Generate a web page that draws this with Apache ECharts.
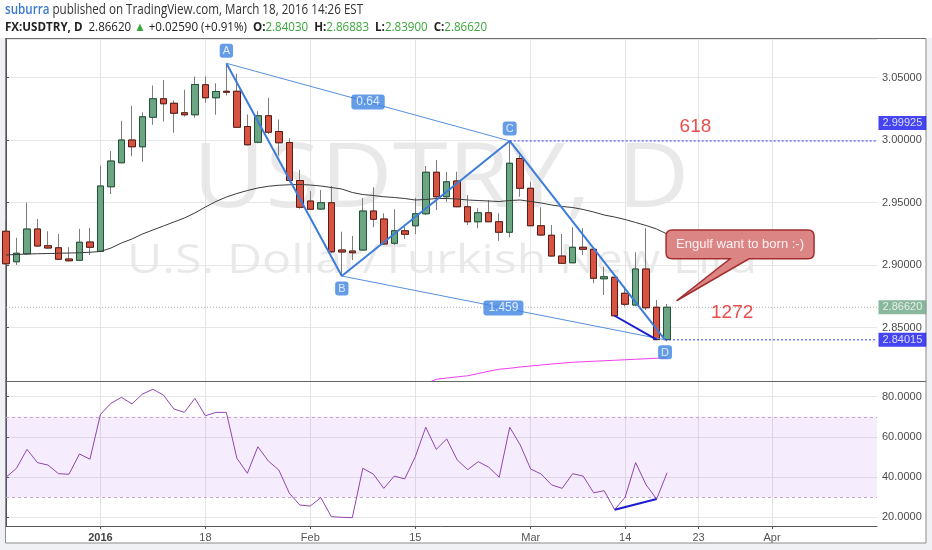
<!DOCTYPE html>
<html><head><meta charset="utf-8">
<script src="https://cdn.jsdelivr.net/npm/echarts@6/dist/echarts.min.js"></script>
<style>html,body{margin:0;padding:0;background:#eff1f4;}#c{width:932px;height:550px;}</style>
</head><body><div id="c"></div>
<script>
// ---------- data ----------
const firstDay = '2015-12-21';
const lastDay = '2016-04-15';
const holidays = ['2016-01-01'];
const tickDates = ['2016-01-04','2016-01-18','2016-02-01','2016-02-15','2016-03-01','2016-03-14','2016-03-23','2016-04-01'];
const tickLabels = ['2016','18','Feb','15','Mar','14','23','Apr'];

const opens = [2.927,2.9026,2.909,2.9288,2.9154,2.9138,2.9048,2.9038,2.9184,2.911,
  2.9626,2.9818,3.0,2.9946,3.0182,3.033,3.0294,3.0218,3.0202,3.0442,
  3.0338,3.039,3.039,3.0108,2.9982,3.0194,3.0068,2.998,2.9676,2.9512,
  2.9448,2.9498,2.912,2.9112,2.912,2.9432,2.9368,2.9174,2.9274,2.9314,
  2.941,2.9742,2.9546,2.9672,2.9466,2.9346,2.9418,2.9346,2.9262,2.9852,
  2.9614,2.9314,2.9238,2.9072,2.9018,2.9142,2.9126,2.889,2.8902,2.8774,
  2.868,2.8968,2.8662,2.8403];
const closes = [2.901,2.9094,2.9288,2.9152,2.9136,2.9046,2.9034,2.9182,2.9142,2.9632,
  2.9832,3.0,2.9946,3.0186,3.033,3.029,3.0214,3.0202,3.0444,3.0338,
  3.0388,3.0382,3.0102,2.9962,3.0194,3.0062,2.9978,2.9676,2.9462,2.9446,
  2.9498,2.9106,2.9104,2.9098,2.9432,2.9366,2.9168,2.9274,2.9246,2.941,
  2.9742,2.9546,2.9666,2.9466,2.9346,2.9418,2.9346,2.9262,2.9814,2.9614,
  2.9314,2.924,2.9072,2.9014,2.9142,2.9126,2.8894,2.8906,2.8594,2.8686,
  2.8968,2.8658,2.8403,2.8662];
const lows = [2.900,2.900,2.908,2.9146,2.913,2.904,2.9026,2.9034,2.908,2.9104,
  2.9568,2.9814,2.987,2.9826,3.0122,3.0148,3.0058,3.0188,3.0178,3.0298,
  3.0202,3.0356,3.0098,2.9956,2.9974,3.0048,2.9876,2.9662,2.945,2.944,
  2.944,2.9094,2.8912,2.904,2.9114,2.9302,2.916,2.916,2.9208,2.9248,
  2.94,2.944,2.9506,2.9462,2.932,2.9294,2.9346,2.9194,2.9222,2.9546,
  2.9312,2.9232,2.9066,2.9008,2.9014,2.908,2.8854,2.876,2.8586,2.867,
  2.867,2.864,2.84015,2.839];
const highs = [2.935,2.9218,2.9498,2.9368,2.927,2.9248,2.9142,2.929,2.9298,2.9794,
  2.9912,3.0154,3.0274,3.0222,3.0436,3.048,3.0316,3.0402,3.0508,3.0508,
  3.0454,3.0614,3.053,3.0204,3.023,3.0338,3.0164,3.0014,2.9762,2.9592,
  2.96,2.9632,2.9266,2.9232,2.9534,2.9622,2.9414,2.9446,2.9306,2.9538,
  2.9792,2.984,2.9746,2.9746,2.956,2.9454,2.952,2.9414,2.99925,2.9878,
  2.9666,2.9462,2.932,2.9248,2.9302,2.9294,2.9146,2.8986,2.8906,2.8826,
  2.9102,2.9294,2.872,2.86883];
const maSlow = [2.908,2.9084,2.9088,2.909,2.9092,2.9094,2.9096,2.9098,2.9102,2.9108,
  2.9136,2.9176,2.9208,2.9248,2.928,2.9312,2.9344,2.9376,2.9416,2.9464,
  2.9508,2.9544,2.9572,2.9596,2.9616,2.963,2.9638,2.9642,2.9644,2.964,
  2.9632,2.962,2.9608,2.958,2.9564,2.9556,2.9546,2.954,2.9532,2.952,
  2.9524,2.9532,2.9532,2.9528,2.952,2.9516,2.9512,2.9508,2.9516,2.952,
  2.9508,2.9496,2.948,2.9468,2.946,2.9444,2.9424,2.94,2.9384,2.9364,
  2.934,2.9316,2.9288,2.9248];
const ma200Start = 40;
const ma200 = [2.805,2.8086,2.8096,2.8105,2.8114,2.8132,2.815,2.8166,2.8174,2.8184,
  2.8192,2.82,2.8208,2.8215,2.8222,2.8226,2.823,2.8234,2.8238,2.8242,
  2.8246,2.825,2.8254,2.8258];
const rsi = [39.9,44.4,53.8,47.2,46.0,41.7,41.4,51.5,48.9,71.2,
  76.7,79.7,76.4,81.3,83.7,80.8,73.9,72.2,79.2,70.5,
  72.2,72.2,49.4,41.9,55.1,48.0,43.5,32.0,26.1,25.6,
  29.8,20.3,20.0,19.8,44.4,41.5,34.4,40.5,39.1,50.1,
  64.8,53.8,59.0,48.5,43.7,47.7,44.9,39.9,64.8,56.0,
  44.0,41.5,36.1,34.4,41.7,40.5,32.2,33.2,23.8,30.0,
  47.2,36.1,29.1,42.2];

// annotations (chart coordinates: bar index, price)
const patternNames = ['A','B','C','D'];
const patternIdx = [21, 32, 48, 62.8];
const patternPrice = [3.0614, 2.8912, 2.99925, 2.84015];
const ratioLabels = ['0.64', '1.459'];
const divPriceIdx = [58, 62], divPriceVal = [2.8594, 2.8403];
const divRsiIdx = [58, 62], divRsiVal = [23.8, 29.1];
const lastPrice = 2.8662;
const noteTexts = ['618', '1272'];
const noteIdx = [65.7, 69.2];
const notePrice = [3.0106, 2.8614];
const calloutText = 'Engulf want to born :-)';
const calloutTip = [63.9, 2.8714];
const calloutBox = [62.9, 2.928, 77.0, 2.905];
const calloutBase = [69.0, 70.8];
const rsiBand = [30, 70];

// ---------- build ----------
function tradingDays(a, b, skip) {
  const out = []; let d = new Date(a + 'T00:00:00Z'); const e = new Date(b + 'T00:00:00Z');
  while (d <= e) { const wd = d.getUTCDay(); const s = d.toISOString().slice(0, 10);
    if (wd !== 0 && wd !== 6 && skip.indexOf(s) < 0) out.push(s);
    d = new Date(d.getTime() + 86400000); }
  return out;
}
const days = tradingDays(firstDay, lastDay, holidays);
const lastIdx = days.length - 1;
const tickMap = {}; tickDates.forEach((d, i) => tickMap[d] = tickLabels[i]);
const isTick = (i, v) => tickMap[v] !== undefined;

const candles = opens.map((o, i) => [o, closes[i], lows[i], highs[i]]);
const bodies = opens.map((o, i) => [o, closes[i], Math.min(o, closes[i]), Math.max(o, closes[i])]);
const ma200Data = days.slice(0, ma200Start).map(() => null).concat(ma200);
const P = patternIdx.map((x, i) => [x, patternPrice[i]]);
const mid = (a, b) => [(a[0] + b[0]) / 2, (a[1] + b[1]) / 2];
const isMult = (v, s) => Math.abs(v / s - Math.round(v / s)) < 1e-6;

const blueThick = '#3c7ddb', blueThin = '#5690dd', tagBlue = '#1515ee';
const labelBox = {show: true, color: '#fff', backgroundColor: '#3f83e2', borderRadius: 3,
  fontSize: 11, fontFamily: 'Liberation Sans', padding: [2, 3, 1, 3]};

const option = {
  animation: false,
  backgroundColor: '#eff1f4',
  graphic: [
    {type: 'rect', z: -100, shape: {x: 0, y: 0, width: 932, height: 38}, style: {fill: '#ffffff'}},
    {type: 'rect', z: -100, shape: {x: 5.5, y: 38.5, width: 920.5, height: 504.5}, style: {fill: '#ffffff', stroke: '#8c8c8c', lineWidth: 1}},
    {type: 'line', z: 100, shape: {x1: 5, y1: 38.5, x2: 926, y2: 38.5}, style: {stroke: '#6f6f6f', lineWidth: 1.2}},
    {type: 'line', z: 100, shape: {x1: 5, y1: 381.5, x2: 926, y2: 381.5}, style: {stroke: '#666', lineWidth: 1}},
    {type: 'text', z: -50, x: 441, y: 181, scaleX: 1.11, style: {text: 'USDTRY, D', fontSize: 90, fontFamily: 'Open Sans', fill: 'rgba(0,0,0,0.085)', align: 'center', verticalAlign: 'middle'}},
    {type: 'text', z: -50, x: 442, y: 262, scaleX: 1.21, style: {text: 'U.S. Dollar/Turkish New Lira', fontSize: 40, fontFamily: 'Open Sans', fill: 'rgba(0,0,0,0.085)', align: 'center', verticalAlign: 'middle'}},
    {type: 'text', z: 10, x: 5, y: 10, scaleX: 0.83, style: {text: '{u|suburra} published on TradingView.com, March 18, 2016 14:26 EST',
      fontSize: 14, fontFamily: 'Open Sans', fill: '#333', verticalAlign: 'middle',
      rich: {u: {fill: '#3a7bd0', fontSize: 14, fontFamily: 'Open Sans', fontWeight: 600}}}},
    {type: 'text', z: 10, x: 5, y: 27, scaleX: 0.89, style: {
      text: '{b|FX:USDTRY, D}  2.86620 {g|▲} +0.02590 (+0.91%)  {b|O:}{g|2.84030}  {b|H:}{g|2.86883}  {b|L:}{g|2.83900}  {b|C:}{g|2.86620}',
      fontSize: 13, fontFamily: 'Open Sans', fill: '#222', verticalAlign: 'middle',
      rich: {b: {fontWeight: 'bold', fontSize: 13, fontFamily: 'Open Sans', fill: '#222'},
             g: {fill: '#3aa63a', fontSize: 13, fontFamily: 'Open Sans'}}}}
  ],
  grid: [
    {left: 6, right: 55, top: 39, height: 342},
    {left: 6, right: 55, top: 381, height: 145}
  ],
  xAxis: [
    {type: 'category', gridIndex: 0, data: days, boundaryGap: false,
     axisLine: {show: false}, axisTick: {show: false}, axisLabel: {show: false},
     splitLine: {show: true, interval: isTick, lineStyle: {color: '#e4e4e4'}}},
    {type: 'category', gridIndex: 1, data: days, boundaryGap: false,
     axisLine: {show: true, lineStyle: {color: '#555'}},
     axisTick: {show: true, interval: isTick, length: 3, lineStyle: {color: '#555'}},
     axisLabel: {interval: isTick, margin: 6, color: '#555', fontSize: 11, fontFamily: 'Liberation Sans',
       formatter: v => { const t = tickMap[v]; if (t === undefined) return ''; return /^\d{4}$/.test(t) ? '{b|' + t + '}' : t; },
       rich: {b: {fontWeight: 'bold', color: '#444', fontSize: 11, fontFamily: 'Liberation Sans'}}},
     splitLine: {show: true, interval: isTick, lineStyle: {color: '#e4e4e4'}}},
    {type: 'value', gridIndex: 0, min: 0, max: lastIdx, show: false},
    {type: 'value', gridIndex: 1, min: 0, max: lastIdx, show: false}
  ],
  yAxis: [
    {type: 'value', gridIndex: 0, position: 'right', min: 2.8072, max: 3.0808, splitNumber: 5, scale: true,
     axisLine: {show: true, lineStyle: {color: '#555'}}, axisTick: {show: true, length: 3, lineStyle: {color: '#555'}},
     axisLabel: {showMinLabel: false, showMaxLabel: false, margin: 5, color: '#4a4a4a', fontSize: 11, fontFamily: 'Liberation Sans',
       formatter: v => isMult(v, 0.05) ? v.toFixed(5) : ''},
     splitLine: {show: true, lineStyle: {color: '#e6e6e6'}}},
    {type: 'value', gridIndex: 1, position: 'right', min: 15.67, max: 87.81, splitNumber: 3, scale: true,
     axisLine: {show: true, lineStyle: {color: '#555'}}, axisTick: {show: true, length: 3, lineStyle: {color: '#555'}},
     axisLabel: {showMinLabel: false, showMaxLabel: false, margin: 5, color: '#4a4a4a', fontSize: 11, fontFamily: 'Liberation Sans',
       formatter: v => isMult(v, 20) ? v.toFixed(4) : ''},
     splitLine: {show: true, lineStyle: {color: '#e6e6e6'}}}
  ],
  series: [
    {type: 'candlestick', name: 'wick', xAxisIndex: 0, yAxisIndex: 0, data: candles, barWidth: 7, z: 3, silent: true,
     itemStyle: {color: '#6ba583', color0: '#d75442', borderColor: '#7d7d7d', borderColor0: '#7d7d7d', borderWidth: 1}},
    {type: 'candlestick', name: 'body', xAxisIndex: 0, yAxisIndex: 0, data: bodies, barWidth: 7, z: 4, silent: true,
     itemStyle: {color: '#6ba583', color0: '#d75442', borderColor: '#225437', borderColor0: '#5b1a13', borderWidth: 1}},
    {type: 'line', name: 'MA', xAxisIndex: 0, yAxisIndex: 0, data: maSlow, symbol: 'none', z: 5, silent: true,
     lineStyle: {color: '#3a3a3a', width: 1}},
    {type: 'line', name: 'MA200', xAxisIndex: 0, yAxisIndex: 0, data: ma200Data, symbol: 'none', z: 5, silent: true,
     lineStyle: {color: '#f03cf0', width: 1}},
    {type: 'line', xAxisIndex: 2, yAxisIndex: 0, data: P, symbol: 'none', z: 6, silent: true,
     lineStyle: {color: blueThick, width: 2}},
    {type: 'line', xAxisIndex: 2, yAxisIndex: 0, data: [P[0], P[2]], symbol: 'none', z: 6, silent: true,
     lineStyle: {color: blueThin, width: 1}},
    {type: 'line', xAxisIndex: 2, yAxisIndex: 0, data: [P[1], P[3]], symbol: 'none', z: 6, silent: true,
     lineStyle: {color: blueThin, width: 1}},
    {type: 'line', xAxisIndex: 2, yAxisIndex: 0, data: divPriceIdx.map((x, i) => [x, divPriceVal[i]]), symbol: 'none', z: 6, silent: true,
     lineStyle: {color: '#1c1cd0', width: 2}},
    {type: 'line', xAxisIndex: 2, yAxisIndex: 0, data: [P[2], [lastIdx, patternPrice[2]]], symbol: 'none', z: 6, silent: true,
     lineStyle: {color: '#3535f0', width: 1, type: [2, 2]}},
    {type: 'line', xAxisIndex: 2, yAxisIndex: 0, data: [P[3], [lastIdx, patternPrice[3]]], symbol: 'none', z: 6, silent: true,
     lineStyle: {color: '#3535f0', width: 1, type: [2, 2]}},
    {type: 'line', xAxisIndex: 2, yAxisIndex: 0, data: [[0, lastPrice], [lastIdx, lastPrice]], symbol: 'none', z: 2, silent: true,
     lineStyle: {color: '#b0b0b0', width: 1, type: [1, 2]}},
    {type: 'scatter', xAxisIndex: 2, yAxisIndex: 0, symbolSize: 1, z: 8, silent: true, itemStyle: {color: 'rgba(0,0,0,0)'},
     data: P.map((p, i) => ({value: p, name: patternNames[i],
       label: Object.assign({}, labelBox, {position: (i % 2 === 0) ? 'top' : 'bottom', distance: 5, formatter: patternNames[i]})}))},
    {type: 'scatter', xAxisIndex: 2, yAxisIndex: 0, symbolSize: 1, z: 8, silent: true, itemStyle: {color: 'rgba(0,0,0,0)'},
     data: [mid(P[0], P[2]), mid(P[1], P[3])].map((p, i) => ({value: p,
       label: Object.assign({}, labelBox, {position: 'inside', fontSize: 12, padding: [2, 5, 1, 5], formatter: ratioLabels[i]})}))},
    {type: 'scatter', xAxisIndex: 2, yAxisIndex: 0, symbolSize: 1, z: 8, silent: true, itemStyle: {color: 'rgba(0,0,0,0)'},
     data: noteIdx.map((x, i) => ({value: [x, notePrice[i]],
       label: {show: true, position: 'inside', formatter: noteTexts[i], color: '#e3211f', fontSize: 19, fontFamily: 'Liberation Sans'}}))},
    {type: 'scatter', xAxisIndex: 2, yAxisIndex: 0, symbolSize: 1, z: 9, clip: false, silent: true, itemStyle: {color: 'rgba(0,0,0,0)'},
     label: {show: true, position: 'right', distance: 1, color: '#fff', fontSize: 11, fontFamily: 'Liberation Sans', padding: [2, 4, 1, 4],
       formatter: p => p.value[1].toFixed(5)},
     data: [
       {value: [lastIdx, patternPrice[2]], label: {backgroundColor: tagBlue, offset: [0, -18]}},
       {value: [lastIdx, lastPrice], label: {backgroundColor: '#6ba583'}},
       {value: [lastIdx, patternPrice[3]], label: {backgroundColor: tagBlue}}
     ]},
    {type: 'custom', xAxisIndex: 2, yAxisIndex: 0, z: 10, silent: true, clip: false,
     data: [[calloutTip[0], calloutTip[1], calloutBox[0], calloutBox[1], calloutBox[2], calloutBox[3], calloutBase[0], calloutBase[1]]],
     renderItem: function (params, api) {
       const tip = api.coord([api.value(0), api.value(1)]);
       const tl = api.coord([api.value(2), api.value(3)]);
       const br = api.coord([api.value(4), api.value(5)]);
       const b1 = api.coord([api.value(6), api.value(5)]);
       const b2 = api.coord([api.value(7), api.value(5)]);
       const r = 6, x0 = tl[0], y0 = tl[1], x1 = br[0], y1 = br[1];
       const d = 'M' + (x0 + r) + ' ' + y0 + ' L' + (x1 - r) + ' ' + y0 + ' Q' + x1 + ' ' + y0 + ' ' + x1 + ' ' + (y0 + r) +
         ' L' + x1 + ' ' + (y1 - r) + ' Q' + x1 + ' ' + y1 + ' ' + (x1 - r) + ' ' + y1 +
         ' L' + b2[0] + ' ' + y1 + ' L' + tip[0] + ' ' + tip[1] + ' L' + b1[0] + ' ' + y1 +
         ' L' + (x0 + r) + ' ' + y1 + ' Q' + x0 + ' ' + y1 + ' ' + x0 + ' ' + (y1 - r) +
         ' L' + x0 + ' ' + (y0 + r) + ' Q' + x0 + ' ' + y0 + ' ' + (x0 + r) + ' ' + y0 + ' Z';
       return {type: 'group', children: [
         {type: 'path', shape: {pathData: d}, style: {fill: '#db8585', stroke: '#a32d2d', lineWidth: 1.5}},
         {type: 'text', style: {text: calloutText, x: (x0 + x1) / 2, y: (y0 + y1) / 2, align: 'center', verticalAlign: 'middle',
           fill: '#fdf0f0', fontSize: 13, fontFamily: 'Liberation Sans'}}
       ]};
     }},
    {type: 'line', name: 'RSI', xAxisIndex: 1, yAxisIndex: 1, data: rsi, symbol: 'none', z: 5, silent: true,
     lineStyle: {color: '#9245b0', width: 1},
     markArea: {silent: true, itemStyle: {color: 'rgba(160,70,235,0.1)'}, data: [[{yAxis: rsiBand[0]}, {yAxis: rsiBand[1]}]]},
     markLine: {silent: true, symbol: 'none', label: {show: false}, lineStyle: {color: '#c4a6cf', width: 1, type: [3, 3]},
       data: [{yAxis: rsiBand[0]}, {yAxis: rsiBand[1]}]}},
    {type: 'line', xAxisIndex: 3, yAxisIndex: 1, data: divRsiIdx.map((x, i) => [x, divRsiVal[i]]), symbol: 'none', z: 6, silent: true,
     lineStyle: {color: '#1c1cd0', width: 2}}
  ]
};
const chart = echarts.init(document.getElementById('c'), null, {renderer: 'canvas'});
chart.setOption(option);
</script>
</body></html>
